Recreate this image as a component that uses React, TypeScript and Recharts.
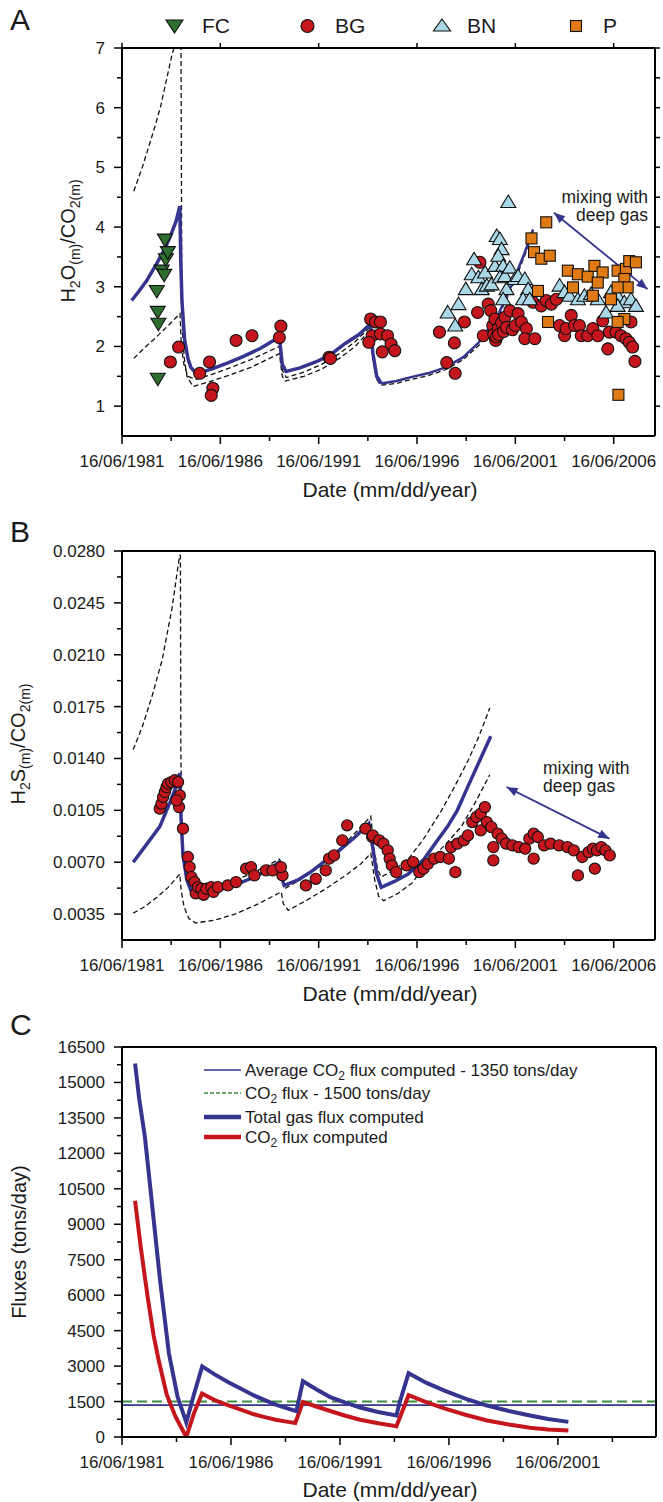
import React from 'react';
import { ComposedChart, Scatter, Line, XAxis, YAxis, ReferenceLine } from 'recharts';

const FONT = '"Liberation Sans", Arial, Helvetica, sans-serif';
const BLUE = '#35358f';
const RED = '#c5161d';
const LIGHTBLUE = '#abd8e8';
const ORANGE = '#e07a14';
const GREEN = '#2e6f30';
const DGREEN = '#3d8b3d';

// ---- shared axes ----
const X_DOMAIN_AB: [number, number] = [1981.45, 2008.55];
const X_TICKS_AB = [1981.45, 1983.95, 1986.45, 1988.95, 1991.45, 1993.95, 1996.45, 1998.95, 2001.45, 2003.95, 2006.45];
const X_DOMAIN_C: [number, number] = [1981.45, 2005.95];
const X_TICKS_C = [1981.45, 1983.95, 1986.45, 1988.95, 1991.45, 1993.95, 1996.45, 1998.95, 2001.45, 2003.95];

// ---- panel A: H2O/CO2 ----
const Y_TICKS_A = [1, 1.5, 2, 2.5, 3, 3.5, 4, 4.5, 5, 5.5, 6, 6.5, 7];
const fcA: [number, number][] = [
  [1983.22, 2.93], [1983.27, 2.58], [1983.3, 2.38], [1983.27, 1.46], [1983.47, 3.27],
  [1983.63, 3.79], [1983.68, 3.46], [1983.78, 3.58], [1983.6, 3.2],
];
const bgA: [number, number][] = [
  [1983.91, 1.74], [1984.33, 1.99], [1985.4, 1.55], [1985.9, 1.74], [1986.07, 1.3], [1985.99, 1.18],
  [1987.25, 2.1], [1988.06, 2.18], [1989.53, 2.34], [1989.45, 2.15], [1991.98, 1.82], [1992.05, 1.8],
  [1994.09, 2.46], [1994.34, 2.41], [1994.17, 2.18], [1994.0, 2.07], [1994.59, 2.41], [1994.59, 2.21],
  [1994.95, 2.18], [1995.13, 2.04], [1995.32, 1.93], [1994.68, 1.91],
  [1997.59, 2.24], [1998.35, 2.06], [1997.96, 1.73], [1998.39, 1.55], [1998.86, 2.41], [1999.53, 2.57],
  [1999.82, 2.18], [1999.65, 3.41], [2000.07, 2.71], [2000.2, 2.6], [2000.3, 2.35], [2000.35, 2.2],
  [2000.45, 2.1], [2000.41, 2.46], [2000.58, 2.3], [2000.49, 2.16], [2000.6, 2.2], [2000.75, 2.4],
  [2000.85, 2.25], [2000.92, 2.49], [2001.0, 2.32], [2001.17, 2.6], [2001.3, 2.28], [2001.45, 2.35],
  [2001.59, 2.55], [2001.76, 2.41], [2002.01, 2.3], [2001.93, 2.13], [2002.44, 2.13], [2002.35, 2.74],
  [2002.77, 2.68], [2003.02, 2.77], [2003.28, 2.71], [2003.53, 2.79], [2003.7, 2.35], [2003.95, 2.18],
  [2004.03, 2.3], [2004.29, 2.52], [2004.46, 2.35], [2004.71, 2.35], [2004.8, 2.18], [2005.13, 2.18],
  [2005.39, 2.3], [2005.64, 2.18], [2005.89, 2.43], [2006.15, 1.96], [2006.23, 2.24], [2006.57, 2.24],
  [2006.82, 2.18], [2007.07, 2.13], [2007.24, 2.07], [2007.33, 2.41], [2007.41, 1.99], [2007.53, 1.75],
];
const bnA: [number, number][] = [
  [2001.09, 4.42], [1998.01, 2.57], [1998.39, 2.35], [1998.56, 2.71], [1998.93, 2.96], [1999.35, 3.46],
  [1999.23, 3.21], [1999.57, 3.16], [1999.74, 2.96], [1999.91, 3.24], [2000.0, 3.02], [2000.24, 3.04],
  [2000.41, 3.35], [2000.5, 3.85], [2000.66, 3.8], [2000.75, 3.63], [2000.58, 3.52], [2000.83, 3.35],
  [2000.66, 3.16], [2000.92, 3.18], [2001.0, 2.96], [2000.83, 2.79], [2001.17, 3.32], [2001.42, 3.13],
  [2001.59, 3.18], [2001.93, 3.13], [2002.1, 2.96], [2001.84, 2.79], [2002.18, 2.79], [2003.7, 3.02],
  [2003.95, 2.91], [2004.2, 2.85], [2004.63, 2.79], [2004.96, 2.85], [2005.3, 2.88], [2005.64, 2.79],
  [2006.06, 2.57], [2006.31, 2.91], [2006.65, 2.85], [2006.99, 2.74], [2007.33, 2.79], [2007.58, 2.68],
  [2006.65, 2.68],
];
const pA: [number, number][] = [
  [2003.02, 4.08], [2002.27, 3.81], [2002.4, 3.58], [2002.77, 3.47], [2003.2, 3.52], [2002.6, 2.93],
  [2003.11, 2.41], [2004.12, 3.27], [2004.63, 3.21], [2005.13, 3.17], [2005.47, 3.35], [2005.89, 3.24],
  [2005.64, 3.07], [2004.38, 2.99], [2005.39, 2.85], [2006.31, 2.79], [2006.65, 3.27], [2007.07, 3.3],
  [2007.24, 3.43], [2007.58, 3.41], [2006.99, 3.13], [2007.16, 2.99], [2006.65, 2.99], [2006.99, 2.46],
  [2006.65, 2.41], [2006.69, 1.19],
];
const blueA: [number, number][] = [
  [1981.94, 2.77], [1982.3, 2.92], [1982.7, 3.1], [1983.2, 3.38], [1983.6, 3.62], [1983.9, 3.84],
  [1984.2, 4.1], [1984.39, 4.35], [1984.44, 3.4], [1984.5, 2.75], [1984.63, 2.13], [1984.8, 1.8],
  [1984.95, 1.65], [1985.23, 1.545], [1986.0, 1.62], [1986.8, 1.72], [1987.6, 1.83], [1988.5, 1.97],
  [1989.45, 2.16], [1989.6, 1.7], [1989.79, 1.58], [1990.5, 1.64], [1991.3, 1.74], [1992.0, 1.85],
  [1992.8, 2.05], [1993.5, 2.2], [1994.09, 2.38], [1994.2, 1.9], [1994.4, 1.5], [1994.63, 1.38],
];
const blueA4: [number, number][] = [
  [1994.63, 1.38], [1995.4, 1.42], [1996.2, 1.49], [1997.0, 1.55], [1997.9, 1.65], [1998.8, 1.82],
  [1999.6, 2.07], [2000.1, 2.3], [2000.6, 2.55], [2001.25, 3.02], [2001.9, 3.55], [2002.35, 3.96],
];
const dashA1: [number, number][] = [
  [1982.05, 4.6], [1982.5, 5.02], [1983.0, 5.55], [1983.4, 6.0], [1983.7, 6.45], [1984.0, 6.9],
  [1984.15, 7.05], [1984.45, 7.08], [1984.47, 5.0], [1984.49, 3.0], [1984.53, 2.2], [1984.62, 1.8],
  [1984.75, 1.5], [1985.06, 1.33], [1986.0, 1.42], [1987.0, 1.53], [1988.0, 1.65], [1989.45, 1.88],
  [1989.6, 1.5], [1989.75, 1.42], [1990.7, 1.5], [1991.6, 1.62], [1992.5, 1.8], [1993.3, 2.0],
  [1994.09, 2.28], [1994.2, 1.8], [1994.4, 1.45], [1994.6, 1.35], [1995.4, 1.38], [1996.2, 1.45],
  [1997.0, 1.51], [1997.9, 1.61], [1998.8, 1.78], [1999.6, 2.02], [2000.5, 2.45], [2001.25, 2.96],
  [2001.9, 3.5], [2002.35, 3.9],
];
const dashA2: [number, number][] = [
  [1982.05, 1.8], [1982.6, 1.98], [1983.2, 2.16], [1983.8, 2.35], [1984.4, 2.55], [1984.47, 2.0],
  [1984.6, 1.7], [1984.8, 1.5], [1985.2, 1.45], [1986.0, 1.53], [1987.0, 1.65], [1988.0, 1.78],
  [1989.45, 2.0], [1989.6, 1.6], [1989.8, 1.48], [1990.7, 1.57], [1991.6, 1.7], [1992.5, 1.88],
  [1993.3, 2.08], [1994.09, 2.33],
];

// ---- panel B: H2S/CO2 ----
const Y_TICKS_B = [0.0035, 0.00525, 0.007, 0.00875, 0.0105, 0.01225, 0.014, 0.01575, 0.0175, 0.01925, 0.021, 0.02275, 0.0245, 0.02625, 0.028];
const bgB: [number, number][] = [
  [1983.37, 0.01061], [1983.46, 0.01095], [1983.54, 0.0114], [1983.63, 0.01174], [1983.71, 0.01207],
  [1983.79, 0.0123], [1983.96, 0.01241], [1984.13, 0.01253], [1984.3, 0.01241], [1984.39, 0.01151],
  [1984.35, 0.01072], [1984.22, 0.01117], [1984.55, 0.00926], [1984.8, 0.00735], [1984.89, 0.00667],
  [1984.98, 0.00599], [1985.14, 0.00566], [1985.2, 0.0049], [1985.31, 0.00532], [1985.48, 0.00521],
  [1985.6, 0.0048], [1985.74, 0.00521], [1985.99, 0.00532], [1986.1, 0.005], [1986.32, 0.00532],
  [1986.83, 0.00543], [1987.25, 0.00566], [1987.76, 0.00656], [1988.01, 0.00667], [1988.18, 0.00611],
  [1988.77, 0.00645], [1989.11, 0.00645], [1989.61, 0.00611], [1989.53, 0.00667], [1990.8, 0.00543],
  [1991.3, 0.00588], [1991.81, 0.00645], [1991.98, 0.00724], [1992.23, 0.00746], [1992.65, 0.00847],
  [1992.9, 0.00949], [1993.83, 0.00926], [1994.17, 0.0087], [1994.2, 0.00881], [1994.53, 0.00847],
  [1994.74, 0.00825], [1994.96, 0.0078], [1995.06, 0.00724], [1995.17, 0.00678], [1995.39, 0.00633],
  [1995.92, 0.00678], [1996.25, 0.00701], [1996.57, 0.00633], [1996.78, 0.00656], [1997.0, 0.00689],
  [1997.32, 0.00724], [1997.64, 0.00735], [1998.07, 0.00724], [1998.4, 0.00633], [1998.18, 0.00802],
  [1998.5, 0.00825], [1998.83, 0.00847], [1999.04, 0.00881], [1999.26, 0.00971], [1999.47, 0.01005],
  [1999.69, 0.01028], [1999.9, 0.01072], [1999.69, 0.00915], [2000.0, 0.00971], [2000.23, 0.00937],
  [2000.33, 0.00802], [2000.33, 0.00712], [2000.55, 0.00893], [2000.76, 0.00859], [2000.98, 0.00825],
  [2001.3, 0.00814], [2001.62, 0.00802], [2001.95, 0.00791], [2002.16, 0.00859], [2002.38, 0.00893],
  [2002.59, 0.0087], [2002.38, 0.00724], [2002.91, 0.00814], [2003.24, 0.00825], [2003.67, 0.00814],
  [2004.1, 0.00802], [2004.42, 0.0078], [2004.63, 0.00611], [2004.85, 0.00735], [2005.17, 0.00768],
  [2005.39, 0.00791], [2005.6, 0.0078], [2005.82, 0.00802], [2006.03, 0.0078], [2006.25, 0.00746],
  [2005.49, 0.00656],
];
const blueB: [number, number][] = [
  [1982.02, 0.007], [1982.7, 0.0082], [1983.37, 0.0094], [1983.88, 0.011], [1984.2, 0.0121],
  [1984.39, 0.013], [1984.45, 0.01], [1984.55, 0.0075], [1984.75, 0.0058], [1984.95, 0.0051],
  [1985.15, 0.00476], [1986.0, 0.005], [1987.1, 0.0054], [1988.0, 0.0059], [1988.8, 0.0064],
  [1989.45, 0.007], [1989.55, 0.006], [1989.7, 0.00543], [1990.4, 0.0058], [1991.0, 0.0063],
  [1991.8, 0.0071], [1992.5, 0.0078], [1993.3, 0.0087], [1994.0, 0.0096], [1994.2, 0.008],
  [1994.4, 0.0062], [1994.63, 0.0053], [1995.3, 0.0057], [1996.0, 0.0062], [1996.8, 0.0072],
  [1997.5, 0.0085], [1998.0, 0.0094], [1998.5, 0.0105], [1999.0, 0.012], [1999.65, 0.0139],
  [2000.2, 0.0155],
];
const dashB1: [number, number][] = [
  [1982.02, 0.0146], [1982.5, 0.0162], [1983.0, 0.0183], [1983.5, 0.0207], [1984.0, 0.0242],
  [1984.38, 0.0277], [1984.42, 0.0277], [1984.44, 0.015], [1984.48, 0.01], [1984.58, 0.007],
  [1984.75, 0.0057], [1985.0, 0.005], [1986.0, 0.0052], [1987.0, 0.0057], [1988.0, 0.0062],
  [1989.45, 0.0072], [1989.58, 0.0058], [1989.7, 0.0052], [1990.5, 0.0058], [1991.5, 0.0067],
  [1992.5, 0.0079], [1993.4, 0.0091], [1994.1, 0.0101], [1994.25, 0.008], [1994.45, 0.0065],
  [1994.63, 0.006], [1995.3, 0.0065], [1996.0, 0.0072], [1996.8, 0.0086], [1997.7, 0.0105],
  [1998.4, 0.0122], [1999.06, 0.0139], [1999.6, 0.0155], [2000.15, 0.0174],
];
const dashB2: [number, number][] = [
  [1982.02, 0.00356], [1982.6, 0.004], [1983.2, 0.0046], [1983.8, 0.0053], [1984.39, 0.0062],
  [1984.45, 0.0052], [1984.6, 0.004], [1984.85, 0.0032], [1985.2, 0.0029], [1986.2, 0.0031],
  [1987.2, 0.0035], [1988.4, 0.0042], [1989.55, 0.005], [1989.65, 0.0042], [1989.9, 0.00375],
  [1990.8, 0.0044], [1991.8, 0.0052], [1992.8, 0.0061], [1993.6, 0.0069], [1994.1, 0.0076],
  [1994.3, 0.0058], [1994.5, 0.0047], [1994.75, 0.0044], [1995.5, 0.0049], [1996.2, 0.0056],
  [1997.0, 0.007], [1997.9, 0.0082], [1998.7, 0.0094], [1999.4, 0.011], [2000.15, 0.0129],
];

// ---- panel C: fluxes (tons/day) ----
const Y_TICKS_C = [0, 750, 1500, 2250, 3000, 3750, 4500, 5250, 6000, 6750, 7500, 8250, 9000, 9750, 10500, 11250, 12000, 12750, 13500, 14250, 15000, 15750, 16500];
const totalFlux: [number, number][] = [
  [1982.05, 15800], [1982.24, 14300], [1982.5, 12700], [1982.8, 10100], [1983.2, 6600], [1983.6, 3550],
  [1984.0, 1700], [1984.4, 620], [1984.75, 1800], [1985.13, 2990], [1985.7, 2650], [1986.33, 2320],
  [1987.0, 2000], [1987.5, 1760], [1988.0, 1560], [1988.5, 1370], [1989.0, 1220], [1989.45, 1090],
  [1989.75, 2360], [1990.4, 2000], [1991.0, 1690], [1991.7, 1450], [1992.37, 1250], [1993.2, 1060],
  [1994.04, 910], [1994.2, 1500], [1994.6, 2700], [1995.4, 2300], [1996.27, 1950], [1997.2, 1620],
  [1998.2, 1330], [1999.2, 1100], [2000.17, 910], [2001.0, 760], [2001.93, 640],
];
const co2Flux: [number, number][] = [
  [1982.05, 10000], [1982.3, 8100], [1982.63, 5900], [1982.9, 4300], [1983.12, 3300], [1983.5, 1800],
  [1983.9, 870], [1984.4, 0], [1984.75, 1000], [1985.12, 1840], [1985.7, 1560], [1986.33, 1340],
  [1987.0, 1130], [1987.5, 960], [1988.0, 840], [1988.5, 730], [1989.0, 650], [1989.4, 590],
  [1989.75, 1480], [1990.4, 1280], [1991.0, 1100], [1991.7, 900], [1992.37, 730], [1993.2, 580],
  [1994.04, 455], [1994.6, 1770], [1995.4, 1480], [1996.27, 1200], [1997.2, 940], [1998.2, 700],
  [1999.2, 530], [2000.17, 390], [2001.0, 320], [2001.93, 270],
];
const AVG_CO2 = 1350;
const REF_CO2 = 1500;

const pts = (arr: [number, number][]) => arr.map(([x, y]) => ({ x, y }));

// ---- ticks ----
const isMajorYear = (v: number) => Math.abs((v - 1981.45) / 5 - Math.round((v - 1981.45) / 5)) < 0.01;
const yearLabel = (v: number) => `16/06/${Math.round(v - 0.45)}`;

const bottomTick = (p: any) => {
  const major = isMajorYear(p.payload.value);
  return (
    <g>
      <line x1={p.x} x2={p.x} y1={p.y} y2={p.y + (major ? 8 : 5)} stroke="#000" strokeWidth={1.5} />
      {major && (
        <text x={p.x} y={p.y + 31} textAnchor="middle" fontSize={17} fontFamily={FONT} fill="#1a1a1a">
          {yearLabel(p.payload.value)}
        </text>
      )}
    </g>
  );
};
const topTick = (p: any) =>
  isMajorYear(p.payload.value) ? <line x1={p.x} x2={p.x} y1={p.y} y2={p.y - 5} stroke="#000" strokeWidth={1.5} /> : <g />;
const rightTick = (p: any) => <line x1={p.x} x2={p.x + 5} y1={p.y} y2={p.y} stroke="#000" strokeWidth={1.5} />;

const leftTick = (isMajor: (v: number) => boolean, fmt: (v: number) => string) => (p: any) => {
  const major = isMajor(p.payload.value);
  return (
    <g>
      <line x1={p.x - (major ? 8 : 5)} x2={p.x} y1={p.y} y2={p.y} stroke="#000" strokeWidth={1.5} />
      {major && (
        <text x={p.x - 17} y={p.y + 6} textAnchor="end" fontSize={17} fontFamily={FONT} fill="#1a1a1a">
          {fmt(p.payload.value)}
        </text>
      )}
    </g>
  );
};
const tickA = leftTick((v) => Number.isInteger(v), (v) => String(v));
const tickB = leftTick((v) => Math.abs(v / 0.0035 - Math.round(v / 0.0035)) < 1e-6, (v) => v.toFixed(4));
const tickC = leftTick((v) => v % 1500 === 0, (v) => String(v));

const AXIS = { stroke: '#000', strokeWidth: 2 };

// ---- marker shapes ----
const circleShape = (r: number) => (p: any) => (
  <circle cx={p.cx} cy={p.cy} r={r} fill={RED} stroke="#111" strokeWidth={1.1} />
);
const triUp = (p: any) => (
  <path d={`M${p.cx},${p.cy - 7} L${p.cx + 7.5},${p.cy + 5.5} L${p.cx - 7.5},${p.cy + 5.5} Z`} fill={LIGHTBLUE} stroke="#111" strokeWidth={1.1} />
);
const triDown = (p: any) => (
  <path d={`M${p.cx},${p.cy + 7} L${p.cx + 7.5},${p.cy - 5.5} L${p.cx - 7.5},${p.cy - 5.5} Z`} fill={GREEN} stroke="#111" strokeWidth={1.1} />
);
const square = (p: any) => (
  <rect x={p.cx - 5.5} y={p.cy - 5.5} width={11} height={11} fill={ORANGE} stroke="#111" strokeWidth={1.1} />
);

const arrowShape = (p: any) => {
  const { x1, y1, x2, y2 } = p;
  const a = Math.atan2(y2 - y1, x2 - x1);
  const head = (x: number, y: number, ang: number) => {
    const L = 11, W = 4.5;
    const bx = x - L * Math.cos(ang), by = y - L * Math.sin(ang);
    const nx = -Math.sin(ang) * W, ny = Math.cos(ang) * W;
    return `M${x},${y} L${bx + nx},${by + ny} L${bx - nx},${by - ny} Z`;
  };
  return (
    <g>
      <line x1={x1} y1={y1} x2={x2} y2={y2} stroke={BLUE} strokeWidth={1.8} />
      <path d={head(x2, y2, a)} fill={BLUE} />
      <path d={head(x1, y1, a + Math.PI)} fill={BLUE} />
    </g>
  );
};

// text with subscripts: parts alternate [text, isSubscript]
const rich = (parts: [string, boolean][], subSize: number, shift: number) => {
  let cur = 0;
  return parts.map(([t, isSub], i) => {
    const target = isSub ? shift : 0;
    const dy = target - cur;
    cur = target;
    return (
      <tspan key={i} dy={dy} fontSize={isSub ? subSize : undefined}>
        {t}
      </tspan>
    );
  });
};

export default function App() {
  return (
    <div style={{ position: 'absolute', left: 0, top: 0, width: 663, height: 1502, background: '#fff', overflow: 'hidden' }}>
      {/* Panel A */}
      <div style={{ position: 'absolute', left: 0, top: 0 }}>
        <ComposedChart width={663} height={520} margin={{ top: 40, right: 0, bottom: 54, left: 62 }}>
          <XAxis type="number" dataKey="x" domain={X_DOMAIN_AB} allowDataOverflow ticks={X_TICKS_AB} interval={0} tickSize={0} tickMargin={0} tickLine={false} axisLine={AXIS} tick={bottomTick} height={30} />
          <XAxis xAxisId="top" orientation="top" type="number" dataKey="x" domain={X_DOMAIN_AB} allowDataOverflow ticks={X_TICKS_AB} interval={0} tickSize={0} tickMargin={0} tickLine={false} axisLine={AXIS} tick={topTick} height={8} />
          <YAxis type="number" dataKey="y" domain={[0.5, 7]} allowDataOverflow ticks={Y_TICKS_A} interval={0} tickSize={0} tickMargin={0} tickLine={false} axisLine={AXIS} tick={tickA} width={60} />
          <YAxis yAxisId="right" orientation="right" type="number" dataKey="y" domain={[0.5, 7]} allowDataOverflow ticks={Y_TICKS_A} interval={0} tickSize={0} tickMargin={0} tickLine={false} axisLine={AXIS} tick={rightTick} width={8} />
          <Scatter data={pts(bgA)} dataKey="y" shape={circleShape(6)} isAnimationActive={false} />
          <Scatter data={pts(bnA)} dataKey="y" shape={triUp} isAnimationActive={false} />
          <Scatter data={pts(pA)} dataKey="y" shape={square} isAnimationActive={false} />
          <Scatter data={pts(fcA)} dataKey="y" shape={triDown} isAnimationActive={false} />
          <Line data={pts(dashA1)} dataKey="y" type="linear" stroke="#111" strokeWidth={1.3} strokeDasharray="5 3" dot={false} isAnimationActive={false} />
          <Line data={pts(dashA2)} dataKey="y" type="linear" stroke="#111" strokeWidth={1.3} strokeDasharray="5 3" dot={false} isAnimationActive={false} />
          <Line data={pts(blueA)} dataKey="y" type="linear" stroke={BLUE} strokeWidth={3.5} dot={false} isAnimationActive={false} />
          <Line data={pts(blueA4)} dataKey="y" type="linear" stroke={BLUE} strokeWidth={2.5} dot={false} isAnimationActive={false} />
          <ReferenceLine segment={[{ x: 2003.41, y: 4.24 }, { x: 2008.17, y: 2.96 }]} ifOverflow="visible" shape={arrowShape} />
        </ComposedChart>
      </div>

      {/* Panel B */}
      <div style={{ position: 'absolute', left: 0, top: 500 }}>
        <ComposedChart width={663} height={500} margin={{ top: 43, right: 0, bottom: 30, left: 62 }}>
          <XAxis type="number" dataKey="x" domain={X_DOMAIN_AB} allowDataOverflow ticks={X_TICKS_AB} interval={0} tickSize={0} tickMargin={0} tickLine={false} axisLine={AXIS} tick={bottomTick} height={30} />
          <XAxis xAxisId="top" orientation="top" type="number" dataKey="x" domain={X_DOMAIN_AB} allowDataOverflow tick={false} tickLine={false} axisLine={AXIS} height={8} />
          <YAxis type="number" dataKey="y" domain={[0.00175, 0.028]} allowDataOverflow ticks={Y_TICKS_B} interval={0} tickSize={0} tickMargin={0} tickLine={false} axisLine={AXIS} tick={tickB} width={60} />
          <YAxis yAxisId="right" orientation="right" type="number" dataKey="y" domain={[0.00175, 0.028]} allowDataOverflow tick={false} tickLine={false} axisLine={AXIS} width={8} />
          <Scatter data={pts(bgB)} dataKey="y" shape={circleShape(5.6)} isAnimationActive={false} />
          <Line data={pts(dashB1)} dataKey="y" type="linear" stroke="#111" strokeWidth={1.3} strokeDasharray="5 3" dot={false} isAnimationActive={false} />
          <Line data={pts(dashB2)} dataKey="y" type="linear" stroke="#111" strokeWidth={1.3} strokeDasharray="5 3" dot={false} isAnimationActive={false} />
          <Line data={pts(blueB)} dataKey="y" type="linear" stroke={BLUE} strokeWidth={3.5} dot={false} isAnimationActive={false} />
          <ReferenceLine segment={[{ x: 2001.0, y: 0.01207 }, { x: 2006.23, y: 0.00859 }]} ifOverflow="visible" shape={arrowShape} />
        </ComposedChart>
      </div>

      {/* Panel C */}
      <div style={{ position: 'absolute', left: 0, top: 1000 }}>
        <ComposedChart width={663} height={502} margin={{ top: 39, right: 0, bottom: 35, left: 62 }}>
          <XAxis type="number" dataKey="x" domain={X_DOMAIN_C} allowDataOverflow ticks={X_TICKS_C} interval={0} tickSize={0} tickMargin={0} tickLine={false} axisLine={AXIS} tick={bottomTick} height={30} />
          <XAxis xAxisId="top" orientation="top" type="number" dataKey="x" domain={X_DOMAIN_C} allowDataOverflow tick={false} tickLine={false} axisLine={AXIS} height={8} />
          <YAxis type="number" dataKey="y" domain={[0, 16500]} allowDataOverflow ticks={Y_TICKS_C} interval={0} tickSize={0} tickMargin={0} tickLine={false} axisLine={AXIS} tick={tickC} width={60} />
          <YAxis yAxisId="right" orientation="right" type="number" dataKey="y" domain={[0, 16500]} allowDataOverflow tick={false} tickLine={false} axisLine={AXIS} width={7} />
          <ReferenceLine y={REF_CO2} stroke={DGREEN} strokeWidth={2} strokeDasharray="10 5" />
          <ReferenceLine y={AVG_CO2} stroke={BLUE} strokeWidth={1.6} />
          <Line data={pts(co2Flux)} dataKey="y" type="linear" stroke={RED} strokeWidth={4} dot={false} isAnimationActive={false} />
          <Line data={pts(totalFlux)} dataKey="y" type="linear" stroke={BLUE} strokeWidth={4} dot={false} isAnimationActive={false} />
        </ComposedChart>
      </div>

      {/* Text overlay */}
      <svg width={663} height={1502} style={{ position: 'absolute', left: 0, top: 0, pointerEvents: 'none' }} fontFamily={FONT} fill="#1a1a1a">
        <text x={10} y={30} fontSize={30}>A</text>
        <text x={10} y={542} fontSize={30}>B</text>
        <text x={10} y={1035} fontSize={30}>C</text>

        {/* legend A */}
        <path d="M166,20 L183,20 L174.5,33 Z" fill={GREEN} stroke="#111" strokeWidth={1.1} />
        <text x={202} y={33} fontSize={21}>FC</text>
        <circle cx={307.5} cy={26} r={6.5} fill={RED} stroke="#111" strokeWidth={1.1} />
        <text x={335} y={33} fontSize={21}>BG</text>
        <path d="M442,19 L450.5,31 L433.5,31 Z" fill={LIGHTBLUE} stroke="#111" strokeWidth={1.1} />
        <text x={467} y={33} fontSize={21}>BN</text>
        <rect x={570.5} y={20.5} width={11} height={11} fill={ORANGE} stroke="#111" strokeWidth={1.1} />
        <text x={603} y={33} fontSize={21}>P</text>

        {/* axis titles */}
        <text transform="translate(75,241) rotate(-90)" textAnchor="middle" fontSize={20}>
          {rich([['H', false], ['2', true], ['O', false], ['(m)', true], ['/CO', false], ['2(m)', true]], 14, 5)}
        </text>
        <text x={390} y={497} textAnchor="middle" fontSize={21}>Date (mm/dd/year)</text>
        <text transform="translate(25,744) rotate(-90)" textAnchor="middle" fontSize={20}>
          {rich([['H', false], ['2', true], ['S', false], ['(m)', true], ['/CO', false], ['2(m)', true]], 14, 5)}
        </text>
        <text x={390} y={1001} textAnchor="middle" fontSize={21}>Date (mm/dd/year)</text>
        <text transform="translate(26,1242) rotate(-90)" textAnchor="middle" fontSize={20}>Fluxes (tons/day)</text>
        <text x={390} y={1497} textAnchor="middle" fontSize={21}>Date (mm/dd/year)</text>

        {/* annotations */}
        <text x={648} y={203} textAnchor="end" fontSize={17.5}>mixing with</text>
        <text x={648} y={221} textAnchor="end" fontSize={17.5}>deep gas</text>
        <text x={543} y={774} fontSize={17.5}>mixing with</text>
        <text x={543} y={792} fontSize={17.5}>deep gas</text>

        {/* legend C */}
        <line x1={204} x2={241} y1={1070} y2={1070} stroke={BLUE} strokeWidth={1.6} />
        <text x={245} y={1076} fontSize={17}>
          {rich([['Average CO', false], ['2', true], [' flux computed - 1350 tons/day', false]], 12, 4)}
        </text>
        <line x1={204} x2={241} y1={1093} y2={1093} stroke={DGREEN} strokeWidth={1.6} strokeDasharray="4 2" />
        <text x={245} y={1099} fontSize={17}>
          {rich([['CO', false], ['2', true], [' flux - 1500 tons/day', false]], 12, 4)}
        </text>
        <line x1={204} x2={241} y1={1117} y2={1117} stroke={BLUE} strokeWidth={4.5} />
        <text x={245} y={1123} fontSize={17}>Total gas flux computed</text>
        <line x1={204} x2={241} y1={1137} y2={1137} stroke={RED} strokeWidth={4.5} />
        <text x={245} y={1143} fontSize={17}>
          {rich([['CO', false], ['2', true], [' flux computed', false]], 12, 4)}
        </text>
      </svg>
    </div>
  );
}
